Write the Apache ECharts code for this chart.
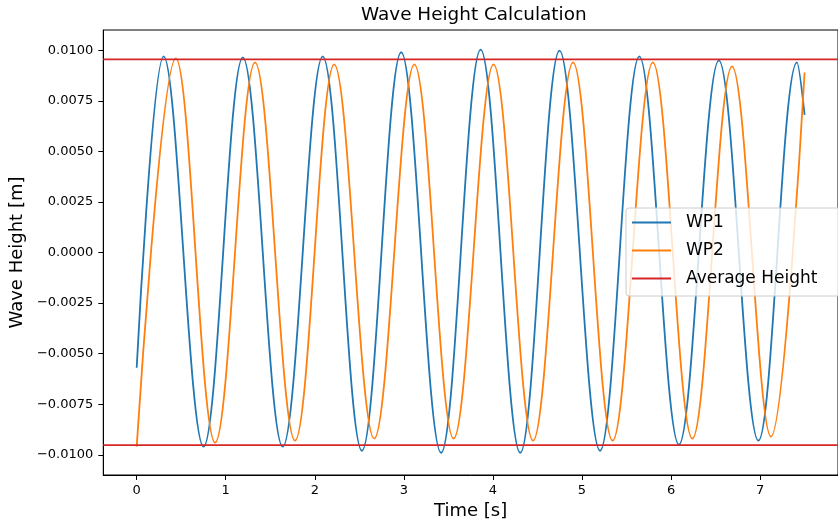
<!DOCTYPE html>
<html>
<head>
<meta charset="utf-8">
<title>Wave Height Calculation</title>
<script src="https://cdn.jsdelivr.net/npm/echarts@6/dist/echarts.min.js"></script>
<style>
  html, body { margin: 0; padding: 0; background: #fff; }
  #chart { width: 838px; height: 525px; }
</style>
</head>
<body>
<div id="chart"></div>
<script>
// values: start, every crest and trough, end
var wp1Time = [0, 0.303, 0.751, 1.192, 1.64, 2.089, 2.529, 2.97, 3.418, 3.862, 4.307, 4.748,
    5.203, 5.644, 6.089, 6.537, 6.981, 7.414, 7.5];
var wp1Height = [-0.0057, 0.0097, -0.0096, 0.00965, -0.0096, 0.0097, -0.0098, 0.0099, -0.0099,
    0.01003, -0.0099, 0.00998, -0.0098, 0.0097, -0.0095, 0.0095, -0.0093, 0.0094, 0.0068];

var wp2Time = [0, 0.44, 0.881, 1.329, 1.778, 2.218, 2.667, 3.118, 3.559, 4.007, 4.451, 4.9,
    5.344, 5.796, 6.24, 6.685, 7.122, 7.5];
var wp2Height = [-0.0096, 0.0096, -0.0094, 0.0094, -0.0093, 0.0093, -0.0092, 0.0093, -0.0092,
    0.0093, -0.0093, 0.0094, -0.0093, 0.0094, -0.0092, 0.0092, -0.0091, 0.0089];

var avgHeight = [0.00955, -0.00952];

var xTicks = [0, 1, 2, 3, 4, 5, 6, 7];
var yTicks = [-0.01, -0.0075, -0.005, -0.0025, 0, 0.0025, 0.005, 0.0075, 0.01];
var xMin = -0.375, xMax = 7.875;

function zip(xs, ys) {
    return xs.map(function (x, i) { return [x, ys[i]]; });
}

// each average level is a horizontal line across the whole axis, broken between levels
var avgData = [];
avgHeight.forEach(function (v, i) {
    if (i > 0) avgData.push('-');
    avgData.push([xMin, v], [xMax, v]);
});

var font = 'DejaVu Sans';
var myChart = echarts.init(document.getElementById('chart'));

var option = {
    animation: false,
    backgroundColor: '#fff',
    title: {
        text: 'Wave Height Calculation',
        left: 361,
        top: 6,
        padding: 0,
        textStyle: { fontFamily: font, fontSize: 18.4, fontWeight: 'normal', color: '#000' }
    },
    legend: {
        orient: 'vertical',
        left: 626,
        top: 208,
        padding: [6, 30, 9, 6],
        itemGap: 11,
        itemWidth: 39,
        itemHeight: 2,
        icon: 'rect',
        backgroundColor: 'rgba(255,255,255,0.8)',
        borderColor: '#cccccc',
        borderWidth: 1,
        borderRadius: 3,
        textStyle: { fontFamily: font, fontSize: 17, color: '#000', padding: [0, 0, 0, 10] },
        data: ['WP1', 'WP2', 'Average Height']
    },
    grid: {
        left: 103,
        top: 30,
        width: 742,
        height: 445,
        show: true,
        borderColor: '#000',
        borderWidth: 1
    },
    xAxis: {
        type: 'value',
        min: xMin,
        max: xMax,
        name: 'Time [s]',
        nameLocation: 'middle',
        nameGap: 27,
        nameTextStyle: { fontFamily: font, fontSize: 18, color: '#000' },
        splitLine: { show: false },
        axisLine: { onZero: false, lineStyle: { color: '#000', width: 1 } },
        axisTick: { customValues: xTicks, length: 5, lineStyle: { color: '#000' } },
        axisLabel: { customValues: xTicks, margin: 9, fontFamily: font, fontSize: 13, color: '#000' }
    },
    yAxis: {
        type: 'value',
        min: -0.011,
        max: 0.011,
        name: 'Wave Height [m]',
        nameLocation: 'middle',
        nameGap: 67,
        nameTextStyle: { fontFamily: font, fontSize: 18, color: '#000' },
        splitLine: { show: false },
        axisLine: { show: true, onZero: false, lineStyle: { color: '#000', width: 1 } },
        axisTick: { show: true, customValues: yTicks, length: 5, lineStyle: { color: '#000' } },
        axisLabel: {
            customValues: yTicks,
            margin: 10,
            fontFamily: font,
            fontSize: 13,
            color: '#000',
            formatter: function (v) {
                return (v < 0 ? '\u2212' : '') + Math.abs(v).toFixed(4);
            }
        }
    },
    series: [
        {
            name: 'WP1',
            type: 'line',
            data: zip(wp1Time, wp1Height),
            smooth: 0.36,
            showSymbol: false,
            color: '#1f77b4',
            lineStyle: { width: 1.8, color: '#1f77b4' }
        },
        {
            name: 'WP2',
            type: 'line',
            data: zip(wp2Time, wp2Height),
            smooth: 0.36,
            showSymbol: false,
            color: '#ff7f0e',
            lineStyle: { width: 1.8, color: '#ff7f0e' }
        },
        {
            name: 'Average Height',
            type: 'line',
            data: avgData,
            showSymbol: false,
            silent: true,
            connectNulls: false,
            color: '#d62728',
            lineStyle: { width: 1.8, color: '#d62728' }
        }
    ]
};
myChart.setOption(option);
</script>
</body>
</html>
